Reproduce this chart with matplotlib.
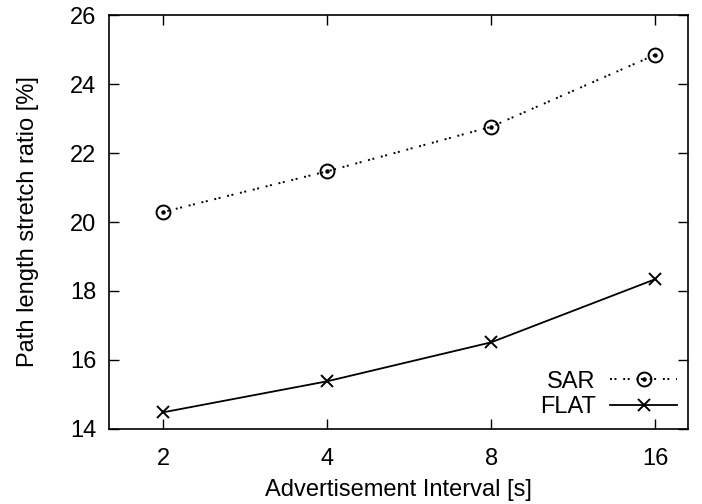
import matplotlib
matplotlib.use("Agg")
import matplotlib.pyplot as plt
from matplotlib.legend_handler import HandlerTuple

plt.rcParams["font.family"] = ["Liberation Sans", "DejaVu Sans"]

intervals = ["2", "4", "8", "16"]
sar = [20.29, 21.47, 22.76, 24.85]
flat = [14.48, 15.38, 16.51, 18.34]

x = list(range(len(intervals)))

fig, ax = plt.subplots(figsize=(7.02, 5.04), dpi=100)
fig.subplots_adjust(left=0.155, right=0.98, top=0.97, bottom=0.149)

dotted = (0, (1, 1.3, 1, 3.5))
sar_line, = ax.plot(x, sar, color="black", linestyle=dotted, linewidth=1.4,
                    marker="o", markersize=10, markerfacecolor="none",
                    markeredgewidth=1.4)
sar_dot, = ax.plot(x, sar, color="black", linestyle="none", marker="o",
                   markersize=2.2)
flat_line, = ax.plot(x, flat, color="black", linewidth=1.3, marker="x",
                     markersize=9, markeredgewidth=1.4)

ax.set_xlim(-0.33, 3.2)
ax.set_ylim(14, 26)
ax.set_xticks(x)
ax.set_xticklabels(intervals)
ax.set_yticks(range(14, 27, 2))

ax.tick_params(direction="in", length=7, width=1, labelsize=17,
               top=True, right=True)
ax.tick_params(axis="x", pad=14)
ax.tick_params(axis="y", pad=9)
for s in ax.spines.values():
    s.set_linewidth(1.2)

ax.set_xlabel("Advertisement Interval [s]", fontsize=17, labelpad=6)
ax.set_ylabel("Path length stretch ratio [%]", fontsize=17, labelpad=22)

ax.legend([(sar_line, sar_dot), flat_line], ["SAR", "FLAT"],
          handler_map={tuple: HandlerTuple(ndivide=1)},
          loc="lower right", frameon=False, markerfirst=False,
          fontsize=17, handlelength=2.85, handletextpad=0.6,
          labelspacing=0.15, borderaxespad=0.2, borderpad=0.25)

fig.savefig("out.png")
